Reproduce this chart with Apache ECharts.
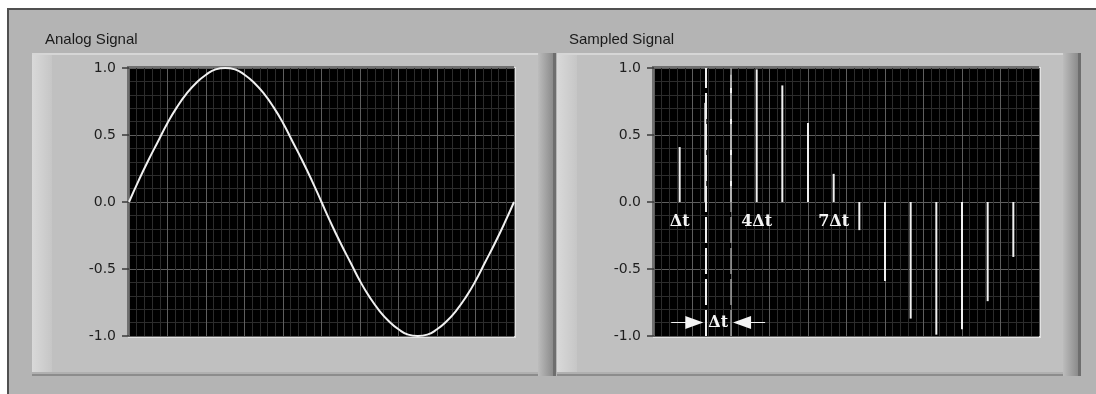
<!DOCTYPE html>
<html>
<head>
<meta charset="utf-8">
<title>Analog Signal / Sampled Signal</title>
<script src="https://cdn.jsdelivr.net/npm/echarts@6/dist/echarts.min.js"></script>
<style>
  html, body { margin: 0; padding: 0; background: #ffffff; }
  #chart { width: 1096px; height: 394px; }
</style>
</head>
<body>
<div id="chart"></div>
<script>
// ---- data ----
const panelTitles = ['Analog Signal', 'Sampled Signal'];

// continuous signal: time (fraction of one period) and amplitude
const analogTime = [
  0, 0.025, 0.05, 0.075, 0.1, 0.125, 0.15, 0.175, 0.2, 0.225,
  0.25, 0.275, 0.3, 0.325, 0.35, 0.375, 0.4, 0.425, 0.45, 0.475,
  0.5, 0.525, 0.55, 0.575, 0.6, 0.625, 0.65, 0.675, 0.7, 0.725,
  0.75, 0.775, 0.8, 0.825, 0.85, 0.875, 0.9, 0.925, 0.95, 0.975, 1.0
];
const analogValues = [
  0.00, 0.16, 0.31, 0.45, 0.59, 0.71, 0.81, 0.89, 0.95, 0.99,
  1.00, 0.99, 0.95, 0.89, 0.81, 0.71, 0.59, 0.45, 0.31, 0.16,
  0.00, -0.16, -0.31, -0.45, -0.59, -0.71, -0.81, -0.89, -0.95, -0.99,
  -1.00, -0.99, -0.95, -0.89, -0.81, -0.71, -0.59, -0.45, -0.31, -0.16, 0.00
];

// discrete samples: sample index and amplitude
const sampleIndex = [0, 1, 2, 3, 4, 5, 6, 7, 8, 9, 10, 11, 12, 13, 14, 15];
const sampleValues = [
  0.00, 0.41, 0.74, 0.95, 0.99, 0.87, 0.59, 0.21,
  -0.21, -0.59, -0.87, -0.99, -0.95, -0.74, -0.41, 0.00
];

// y tick labels
const yTickValues = [-1, -0.5, 0, 0.5, 1];
const yTickLabels = ['-1.0', '-0.5', '0.0', '0.5', '1.0'];

// sample-interval annotations
const deltaLabels = ['\u0394t', '4\u0394t', '7\u0394t'];
const deltaLabelSamples = [1, 4, 7];
const spanLabel = '\u0394t';
const spanSamples = [2, 3];

// ---- layout ----
const PLOT_W = 385, PLOT_H = 268, PLOT_TOP = 68;
const plotLeft = [129, 654];
const frames = [
  { x0: 32, x1: 556, y0: 53, y1: 376 },
  { x0: 557, x1: 1081, y0: 53, y1: 376 }
];

function hGrad(c0, c1) {
  return { type: 'linear', x: 0, y: 0, x2: 1, y2: 0,
           colorStops: [{ offset: 0, color: c0 }, { offset: 1, color: c1 }] };
}

let zc = -60;
function rect(x, y, w, h, fill) {
  return { type: 'rect', silent: true, z: zc++, shape: { x, y, width: w, height: h }, style: { fill } };
}

const graphics = [];
// outer panel
graphics.push(rect(7, 8, 1089, 386, '#b4b4b4'));
graphics.push(rect(7, 8, 1089, 2, '#505050'));
graphics.push(rect(7, 8, 2, 386, '#505050'));
// raised frames around each graph
frames.forEach(f => {
  const w = f.x1 - f.x0, h = f.y1 - f.y0;
  graphics.push(rect(f.x0, f.y0, w, h, '#c0c0c0'));
  graphics.push(rect(f.x0, f.y0, 20, h, hGrad('#d9d9d9', '#c6c6c6')));
  graphics.push(rect(f.x0, f.y0, w - 4, 2, '#d6d6d6'));
  graphics.push(rect(f.x0, f.y1 - 4, w, 2, '#b0b0b0'));
  graphics.push(rect(f.x0, f.y1 - 2, w, 2, '#8c8c8c'));
  graphics.push(rect(f.x1 - 18, f.y0, 16, h, hGrad('#bcbcbc', '#888888')));
  graphics.push(rect(f.x1 - 3, f.y0, 3, h, '#6e6e6e'));
});
// recessed plot wells
plotLeft.forEach(px => {
  graphics.push(rect(px - 1, PLOT_TOP - 1, PLOT_W + 3, PLOT_H + 3, '#e2e2e2'));
  graphics.push(rect(px - 2, PLOT_TOP - 2, PLOT_W + 2, PLOT_H + 2, '#707070'));
  graphics.push(rect(px, PLOT_TOP, PLOT_W, PLOT_H, '#000000'));
});

const majorGrid = { show: true, lineStyle: { color: '#5e5e5e', width: 1 } };
const minorGrid = { show: true, lineStyle: { color: '#2c2c2c', width: 1 } };

function xAxisFor(i, max, interval) {
  return {
    gridIndex: i, type: 'value', min: 0, max: max, interval: interval, z: 1,
    axisLine: { show: false }, axisTick: { show: false }, axisLabel: { show: false },
    splitLine: majorGrid,
    minorTick: { show: false, splitNumber: 5 },
    minorSplitLine: minorGrid
  };
}
function yAxisFor(i) {
  return {
    gridIndex: i, type: 'value', min: -1, max: 1, interval: 0.5, offset: 3, z: 1,
    axisLine: { show: false },
    axisTick: { show: true, length: 7, lineStyle: { color: '#3a3a3a', width: 1.5 } },
    axisLabel: {
      margin: 10, fontFamily: 'DejaVu Sans', fontSize: 14, color: '#1e1e1e',
      formatter: v => {
        const k = yTickValues.findIndex(t => Math.abs(t - v) < 1e-9);
        return k >= 0 ? yTickLabels[k] : '';
      }
    },
    splitLine: majorGrid,
    minorTick: { show: false, splitNumber: 5 },
    minorSplitLine: minorGrid
  };
}

const annoFont = { fontFamily: 'DejaVu Serif', fontWeight: 'bold', fontSize: 16, color: '#f4f4f4' };
const labelY = -0.145, spanY = -0.9;
const spanMid = (spanSamples[0] + spanSamples[1]) / 2;

const markPoints = deltaLabels.map((t, i) => ({
  name: t, coord: [deltaLabelSamples[i], labelY], symbol: 'circle', symbolSize: 0,
  label: Object.assign({ show: true, position: 'inside', formatter: '{b}' }, annoFont)
}));
markPoints.push({
  name: spanLabel, coord: [spanMid, spanY], symbol: 'circle', symbolSize: 0,
  label: Object.assign({ show: true, position: 'inside', formatter: '{b}' }, annoFont)
});
markPoints.push({
  coord: [spanSamples[0] - 0.43, spanY], symbol: 'path://M0,0L18,6.5L0,13Z',
  symbolSize: [18, 13], itemStyle: { color: '#f4f4f4' }, label: { show: false }
});
markPoints.push({
  coord: [spanSamples[1] + 0.43, spanY], symbol: 'path://M18,0L0,6.5L18,13Z',
  symbolSize: [18, 13], itemStyle: { color: '#f4f4f4' }, label: { show: false }
});

// dashed cursor through one sample position
function cursorSeries(sample, color, width) {
  return {
    type: 'line', xAxisIndex: 1, yAxisIndex: 1, data: [], z: 3,
    markLine: {
      silent: true, symbol: 'none', animation: false, label: { show: false },
      lineStyle: { color: color, width: width, type: [26, 5], opacity: 1 },
      data: [{ xAxis: sample }]
    }
  };
}

const option = {
  backgroundColor: '#ffffff',
  animation: false,
  graphic: graphics,
  title: panelTitles.map((t, i) => ({
    text: t, left: [45, 569][i], top: 32, padding: 0,
    textStyle: { fontFamily: 'Liberation Sans', fontSize: 15, fontWeight: 'normal', color: '#1a1a1a' }
  })),
  grid: plotLeft.map(px => ({ left: px, top: PLOT_TOP, width: PLOT_W, height: PLOT_H, show: false })),
  xAxis: [xAxisFor(0, 1, 0.1), xAxisFor(1, 15, 1.5)],
  yAxis: [yAxisFor(0), yAxisFor(1)],
  series: [
    {
      type: 'line', xAxisIndex: 0, yAxisIndex: 0, smooth: true, showSymbol: false,
      lineStyle: { color: '#f0f0f0', width: 2 },
      data: analogTime.map((t, i) => [t, analogValues[i]])
    },
    cursorSeries(spanSamples[0], '#eeeeee', 2),
    cursorSeries(spanSamples[1], '#9a9a9a', 1.5),
    {
      type: 'bar', xAxisIndex: 1, yAxisIndex: 1, barWidth: 2, z: 4,
      itemStyle: { color: '#f0f0f0' },
      data: sampleIndex.map((k, i) => [k, sampleValues[i]]),
      markLine: {
        silent: true, symbol: 'none', label: { show: false }, animation: false,
        lineStyle: { color: '#f0f0f0', width: 1, type: 'solid' },
        data: [
          [
            { coord: [spanSamples[0] - 1.33, spanY] },
            { coord: [spanSamples[0] - 0.5, spanY] }
          ],
          [
            { coord: [spanSamples[1] + 1.33, spanY] },
            { coord: [spanSamples[1] + 0.5, spanY] }
          ]
        ]
      },
      markPoint: { silent: true, animation: false, data: markPoints }
    }
  ]
};

const chart = echarts.init(document.getElementById('chart'), null, { renderer: 'canvas' });
chart.setOption(option);
</script>
</body>
</html>
